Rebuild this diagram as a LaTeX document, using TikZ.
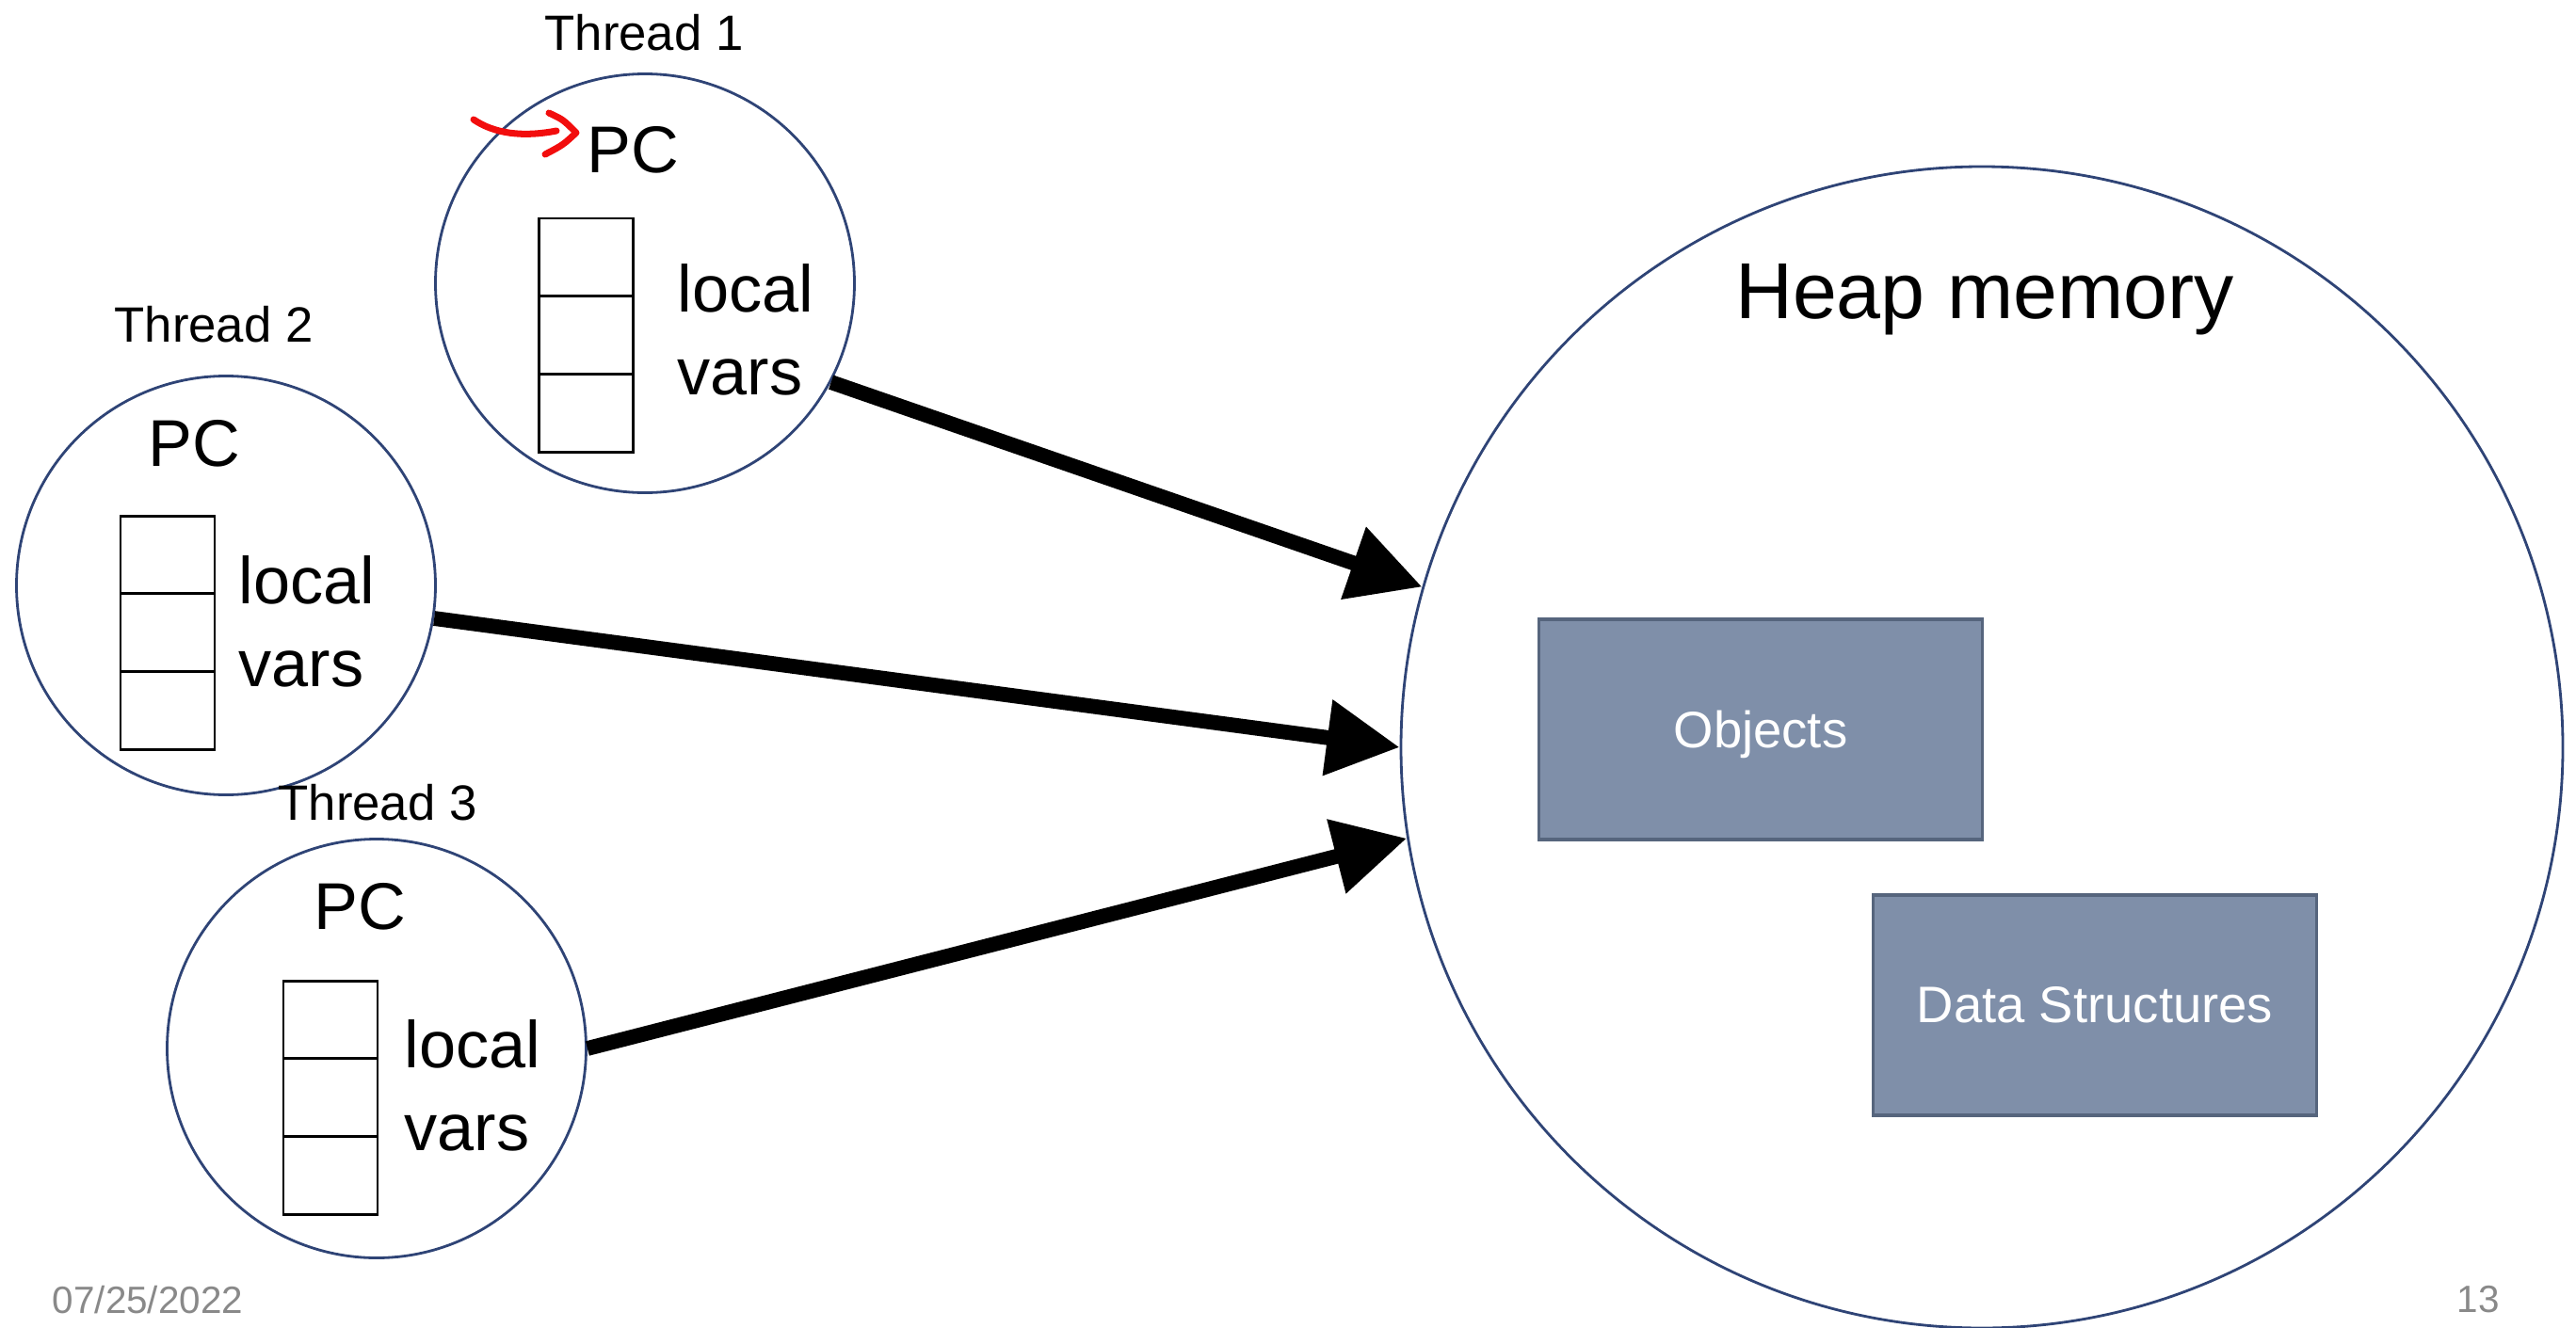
\documentclass[tikz,border=0pt]{standalone}
\usepackage{fontspec}
\setmainfont{Liberation Sans}
\usepackage{xcolor}
\usepackage{tikz}
\usetikzlibrary{positioning,arrows.meta}
\definecolor{RingBlue}{HTML}{2F4476}
\definecolor{HeapFill}{HTML}{7F8FA9}
\definecolor{HeapEdge}{HTML}{56657D}
\definecolor{FootGray}{HTML}{898989}
\definecolor{PenRed}{HTML}{F20D0D}

\begin{document}
\begin{tikzpicture}[
      thr/.style={draw=RingBlue, line width=0.8pt, circle, minimum size=4.45cm, inner sep=0pt},
      heapring/.style={draw=RingBlue, line width=0.8pt, circle, minimum size=12.34cm, inner sep=0pt},
      blk/.style={draw=HeapEdge, fill=HeapFill, line width=1pt, minimum width=4.71cm,
          minimum height=2.34cm, text=white, font=\fontsize{15.5}{18}\selectfont},
      cell/.style={draw, line width=0.85pt, minimum width=1cm, minimum height=0.827cm,
          inner sep=0pt, outer sep=0pt},
      lbl/.style={font=\fontsize{15}{18}\selectfont},
      big/.style={font=\fontsize{20}{25}\selectfont},
      vars/.style={big, align=left, anchor=west, inner sep=0pt},
      foot/.style={text=FootGray, font=\fontsize{11.5}{14}\selectfont},
      ar/.style={-{Triangle[length=22pt,width=22pt]}, line width=4.5pt},
      redpen/.style={PenRed, line width=2pt, line cap=round, line join=round},
    ]
    \useasboundingbox (0,0) rectangle (27.36,14.10);

    % HEAP
    \node[heapring] (heap) at (21.05,6.16) {};
    \node[font=\fontsize{24}{29}\selectfont] (heaplbl) at (21.08,10.92) {Heap memory};
    \node[blk, text depth=0pt] (obj) at (18.70,6.35) {Objects};
    \node[blk] (ds)  at (22.25,3.42) {Data Structures};

    % THREADS
    \node[thr] (t1) at (6.85,11.09) {};
    \node[thr] (t2) at (2.40,7.88) {};
    \node[thr] (t3) at (4.00,2.96) {};
    \node[lbl] (n1) at (6.84,13.75) {Thread 1};
    \node[lbl] (n2) at (2.27,10.65) {Thread 2};
    \node[lbl] (n3) at (4.01,5.57) {Thread 3};
    \node[big] (pc1) at (6.72,12.51) {PC};
    \node[big] (pc2) at (2.06,9.39) {PC};
    \node[big] (pc3) at (3.82,4.47) {PC};
    \node[vars] (v1) at (7.19,10.60) {local\\vars};
    \node[vars] (v2) at (2.53,7.50) {local\\vars};
    \node[vars] (v3) at (4.29,2.57) {local\\vars};

    % stacks
    \foreach \k/\x/\y in {1/6.22/11.78,2/1.78/8.62,3/3.51/3.68}{
      \node[cell, anchor=north] (c\k-1) at (\x,\y) {};
      \node[cell, below=0pt of c\k-1] (c\k-2) {};
      \node[cell, below=0pt of c\k-2] (c\k-3) {};
    }

    % Arrows
    \foreach \a/\b in {t1.-28.5/heap.164.4,t2.-9/heap.west,t3.0/heap.189}
    \draw[ar](\a)--(\b);

    % PC mark
    \coordinate (m0) at (5.03,12.83);
    \coordinate (m1) at (5.91,12.71);
    \coordinate (m2) at (5.83,12.90);
    \coordinate (m3) at (6.12,12.69);
    \coordinate (m4) at (5.79,12.46);
    \draw[redpen] (m0) .. controls (5.25,12.68) and (5.55,12.64) .. (m1);
    \draw[redpen] (m2) .. controls (5.98,12.83) .. (m3) .. controls (5.98,12.56) .. (m4);

    % Footer
    \node[foot] (date) at (1.57,0.29) {07/25/2022};
    \node[foot] (page) at (26.32,0.29) {13};
  \end{tikzpicture}
\end{document}
